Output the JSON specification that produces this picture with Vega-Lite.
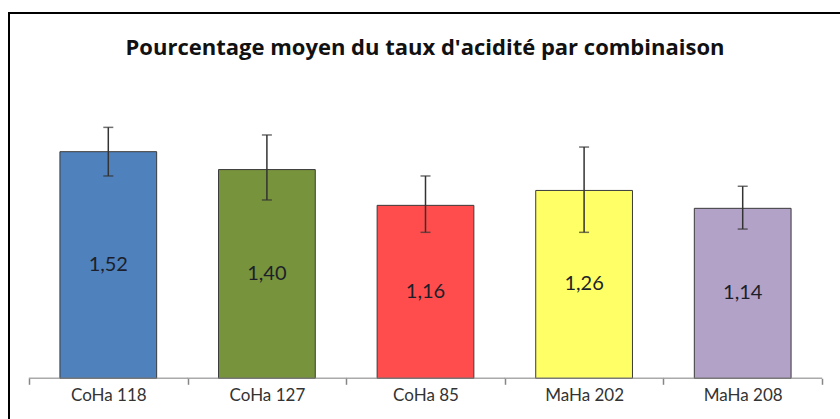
{
  "$schema": "https://vega.github.io/schema/vega-lite/v6.json",
  "width": 840,
  "height": 419,
  "autosize": {"type": "none"},
  "padding": {"left": 9, "top": 13, "right": 0, "bottom": 0},
  "background": "white",
  "config": {
    "view": {"stroke": "#000000", "strokeWidth": 2},
    "locale": {"number": {"decimal": ",", "thousands": " ", "grouping": [3], "currency": ["", " €"]}}
  },
  "title": {
    "text": "Pourcentage moyen du taux d'acidité par combinaison",
    "font": "Open Sans",
    "fontSize": 22,
    "fontWeight": "bold",
    "color": "#111111",
    "anchor": "middle",
    "baseline": "top",
    "offset": -25,
    "dy": 22,
    "dx": -4
  },
  "data": {
    "values": [
      {"combinaison": "CoHa 118", "value": 1.52, "lo": 1.357, "hi": 1.683},
      {"combinaison": "CoHa 127", "value": 1.40, "lo": 1.196, "hi": 1.632},
      {"combinaison": "CoHa 85", "value": 1.16, "lo": 0.979, "hi": 1.357},
      {"combinaison": "MaHa 202", "value": 1.26, "lo": 0.979, "hi": 1.551},
      {"combinaison": "MaHa 208", "value": 1.14, "lo": 1.001, "hi": 1.288}
    ]
  },
  "encoding": {
    "x": {
      "field": "combinaison",
      "type": "nominal",
      "sort": null,
      "scale": {"paddingInner": 0, "paddingOuter": 0.14816, "align": 0.4255},
      "axis": {
        "title": null,
        "orient": "bottom",
        "offset": -53.7,
        "domain": false,
        "ticks": true,
        "tickBand": "extent",
        "tickSize": 6,
        "tickColor": "#868686",
        "tickWidth": 1.5,
        "labelAngle": 0,
        "labelFont": "Lato",
        "labelFontSize": 17,
        "labelColor": "#333333",
        "labelPadding": 3,
        "grid": false
      }
    }
  },
  "layer": [
    {
      "mark": {"type": "bar", "width": {"band": 0.61}, "stroke": "#3a3a3a", "strokeWidth": 1},
      "encoding": {
        "y": {"field": "value", "type": "quantitative", "scale": {"domain": [-0.36, 2.45], "nice": false, "zero": false}, "axis": null},
        "y2": {"datum": 0},
        "color": {
          "field": "combinaison",
          "type": "nominal",
          "scale": {"domain": ["CoHa 118", "CoHa 127", "CoHa 85", "MaHa 202", "MaHa 208"], "range": ["#4F81BD", "#77933C", "#FF4D4D", "#FFFF66", "#B3A2C7"]},
          "legend": null
        }
      }
    },
    {
      "mark": {"type": "tick", "size": 159, "thickness": 1.5, "color": "#868686"},
      "encoding": {"y": {"datum": 0, "type": "quantitative"}}
    },
    {
      "mark": {"type": "rule", "color": "#333333", "strokeWidth": 1.5},
      "encoding": {
        "y": {"field": "lo", "type": "quantitative"},
        "y2": {"field": "hi"}
      }
    },
    {
      "mark": {"type": "tick", "size": 10, "thickness": 1.5, "color": "#333333"},
      "encoding": {"y": {"field": "lo", "type": "quantitative"}}
    },
    {
      "mark": {"type": "tick", "size": 10, "thickness": 1.5, "color": "#333333"},
      "encoding": {"y": {"field": "hi", "type": "quantitative"}}
    },
    {
      "transform": [{"calculate": "datum.value / 2", "as": "mid"}],
      "mark": {"type": "text", "font": "Lato", "fontSize": 20, "color": "#1c1f2a", "baseline": "middle", "align": "center"},
      "encoding": {
        "y": {"field": "mid", "type": "quantitative"},
        "text": {"field": "value", "type": "quantitative", "format": ".2f"}
      }
    }
  ]
}
